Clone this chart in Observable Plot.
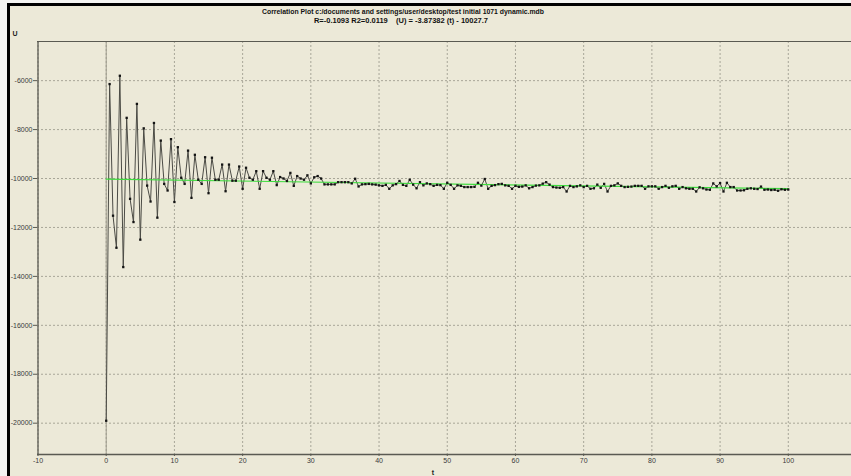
<!DOCTYPE html>
<html>
<head>
<meta charset="utf-8">
<script src="https://cdn.jsdelivr.net/npm/d3@7"></script>
<script src="https://cdn.jsdelivr.net/npm/@observablehq/plot@0.6"></script>
<style>
  html, body { margin: 0; padding: 0; background: #f4f4f2; overflow: hidden; }
  #wrap { position: relative; width: 851px; height: 476px; background: #ece9d8; }
  #chart { position: absolute; left: 0; top: 0; }
  #overlay { position: absolute; left: 0; top: 0; pointer-events: none; }
</style>
</head>
<body>
<div id="wrap">
  <div id="chart"></div>
  <svg id="overlay" width="851" height="476"></svg>
</div>
<script>
// ---- data ----
const tStep = 0.5;               // sampling interval of t
const uValues = [
  -19900, -6140, -11520, -12830, -5800, -13620, -7520, -10830, -11780, -6950,
  -12500, -7950, -10290, -10940, -7730, -11600, -8450, -10220, -10490, -8390,
  -10960, -8720, -9970, -10220, -8860, -10790, -9030, -10050, -10220, -9130,
  -10600, -9150, -10050, -10050, -9430, -10520, -9430, -10090, -10090, -9510,
  -10420, -9560, -9970, -10050, -9700, -10420, -9700, -9970, -10050, -9700,
  -10270, -9940, -10000, -10100, -9770, -10300, -9900, -10000, -10050, -9870,
  -10200, -9950, -9900, -10000, -10240, -10240, -10240, -10240, -10150, -10150,
  -10150, -10150, -10200, -10010, -10325, -10240, -10230, -10220, -10240, -10250,
  -10280, -10300, -10260, -10420, -10280, -10230, -10100, -10260, -10300, -10050,
  -10250, -10400, -10150, -10280, -10200, -10230, -10300, -10260, -10270, -10420,
  -10175, -10260, -10420, -10280, -10300, -10350, -10350, -10350, -10340, -10175,
  -10290, -10020, -10420, -10300, -10270, -10230, -10220, -10280, -10300, -10420,
  -10300, -10340, -10330, -10280, -10400, -10350, -10290, -10280, -10210, -10150,
  -10250, -10350, -10370, -10380, -10350, -10530, -10300, -10350, -10320, -10280,
  -10350, -10300, -10420, -10400, -10250, -10380, -10220, -10530, -10300, -10280,
  -10200, -10300, -10350, -10340, -10330, -10300, -10300, -10300, -10420, -10320,
  -10320, -10320, -10420, -10350, -10300, -10380, -10320, -10300, -10420, -10350,
  -10400, -10420, -10420, -10530, -10360, -10400, -10450, -10460, -10200, -10320,
  -10190, -10530, -10175, -10350, -10350, -10490, -10490, -10480, -10420, -10400,
  -10420, -10430, -10330, -10460, -10450, -10470, -10460, -10500, -10440, -10460,
  -10450
];
// regression line from the subtitle: (U) = -3.87382 (t) - 10027.7
const fitSlope = -3.87382;
const fitIntercept = -10027.7;
const fitRange = [0, 100];

const xTicks = [-10, 0, 10, 20, 30, 40, 50, 60, 70, 80, 90, 100];
const yTicks = [-20000, -18000, -16000, -14000, -12000, -10000, -8000, -6000];

const titleLine1 = "Correlation Plot c:/documents and settings/user/desktop/test initial 1071 dynamic.mdb";
const titleLine2 = "R=-0.1093 R2=0.0119    (U) = -3.87382 (t) - 10027.7";
const xLabel = "t";
const yLabel = "U";

// ---- build ----
const data = uValues.map((u, i) => ({t: i * tStep, u}));
const fit = fitRange.map(t => ({t, u: fitSlope * t + fitIntercept}));

const xDomain = [-10, 110];
const yDomain = [-21280, -4400];
const axisColor = "#5a5a52";
const gridStyle = {stroke: "#a8a698", strokeOpacity: 1, strokeDasharray: "2,2", strokeWidth: 1};

const plot = Plot.plot({
  width: 851,
  height: 476,
  marginLeft: 37,
  marginTop: 41,
  marginBottom: 22,
  marginRight: 0,
  style: {background: "#ece9d8", fontFamily: "'Liberation Sans', Arial, sans-serif", fontSize: "7px", color: "#3a3a3a"},
  x: {domain: xDomain, range: [37.5, 856]},
  y: {domain: yDomain, range: [454, 41]},
  marks: [
    Plot.gridY(yTicks, {...gridStyle}),
    Plot.gridX(xTicks, {...gridStyle}),
    Plot.ruleX([0], {stroke: "#9c9a8c", strokeWidth: 1}),
    Plot.ruleY([yDomain[1]], {stroke: axisColor, strokeWidth: 1}),
    Plot.ruleX([xDomain[0]], {stroke: axisColor, strokeWidth: 1.3}),
    Plot.ruleY([yDomain[0]], {stroke: axisColor, strokeWidth: 1.3}),
    Plot.axisY(yTicks, {tickSize: 4, tickPadding: 1, stroke: axisColor, tickFormat: d => String(d), label: null, fontSize: 7}),
    Plot.axisX(xTicks, {tickSize: 2, tickPadding: 2, stroke: axisColor, tickFormat: d => String(d), label: null, fontSize: 7}),
    Plot.line(data, {x: "t", y: "u", stroke: "#4b4b45", strokeWidth: 1}),
    Plot.line(fit, {x: "t", y: "u", stroke: "#3fdc3f", strokeWidth: 1.2}),
    Plot.dot(data, {x: "t", y: "u", symbol: "square", r: 1.3, fill: "#141414", stroke: "none"})
  ]
});
document.getElementById("chart").appendChild(plot);

// overlay: window frame, titles, axis names
const ov = d3.select("#overlay");
ov.append("rect").attr("x", 0).attr("y", 0).attr("width", 851).attr("height", 3).attr("fill", "#f4f4f2");
ov.append("rect").attr("x", 0).attr("y", 0).attr("width", 7).attr("height", 476).attr("fill", "#f4f4f2");
ov.append("rect").attr("x", 7).attr("y", 3).attr("width", 844).attr("height", 3).attr("fill", "#000");
ov.append("rect").attr("x", 7).attr("y", 3).attr("width", 3).attr("height", 473).attr("fill", "#000");
const tf = "'Liberation Sans', Arial, sans-serif";
ov.append("text").attr("x", 403).attr("y", 14).attr("text-anchor", "middle")
  .attr("font-family", tf).attr("font-size", 7.5).attr("font-weight", "bold").attr("fill", "#111")
  .attr("textLength", 282).attr("lengthAdjust", "spacingAndGlyphs").text(titleLine1);
ov.append("text").attr("x", 401).attr("y", 23).attr("text-anchor", "middle")
  .attr("font-family", tf).attr("font-size", 7.5).attr("font-weight", "bold").attr("fill", "#111")
  .attr("xml:space", "preserve").style("white-space", "pre").text(titleLine2);
ov.append("text").attr("x", 15).attr("y", 36).attr("text-anchor", "middle")
  .attr("font-family", tf).attr("font-size", 7).attr("font-weight", "bold").attr("fill", "#222").text(yLabel);
ov.append("text").attr("x", 433).attr("y", 475).attr("text-anchor", "middle")
  .attr("font-family", tf).attr("font-size", 7).attr("font-weight", "bold").attr("fill", "#222").text(xLabel);
</script>
</body>
</html>
